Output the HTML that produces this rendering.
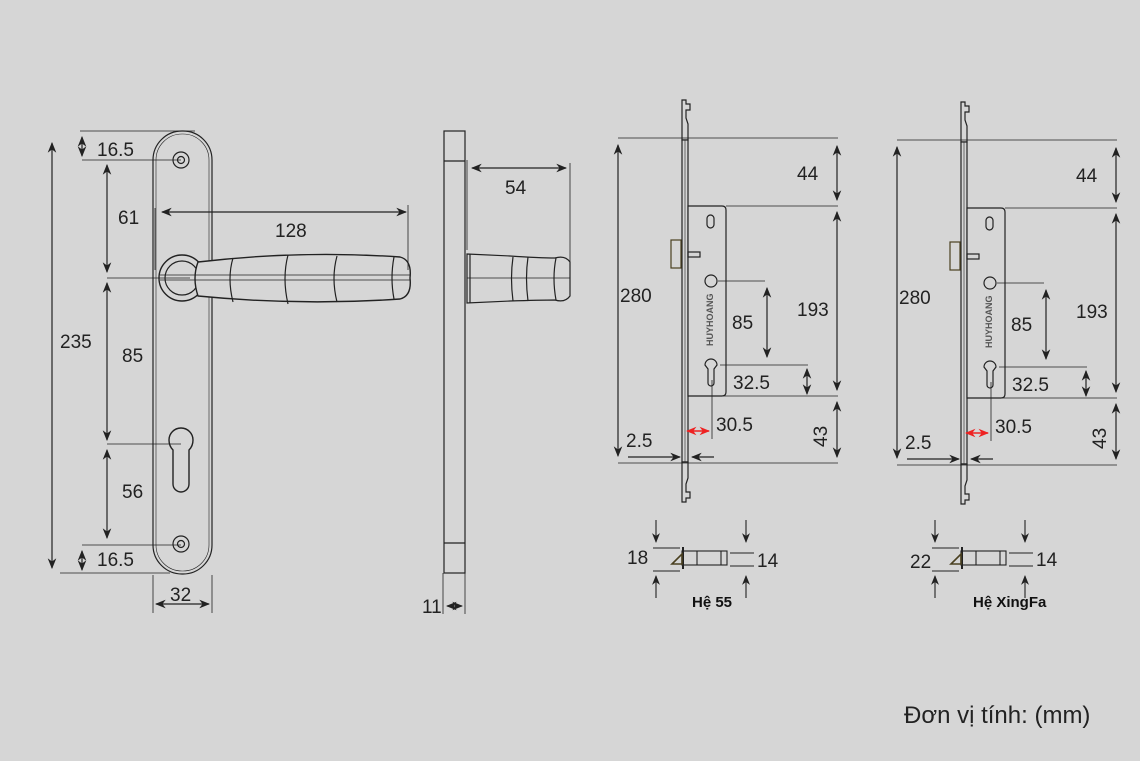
<!DOCTYPE html><html><head><meta charset="utf-8"><style>
html,body{margin:0;padding:0;background:#d6d6d6;}
svg{display:block}
text{font-family:"Liberation Sans",sans-serif;fill:#222;font-size:19px}
</style></head><body>
<svg width="1140" height="761" viewBox="0 0 1140 761" xmlns="http://www.w3.org/2000/svg">
<defs>
<marker id="a" viewBox="0 0 10 10" refX="9" refY="5" markerWidth="9" markerHeight="9" orient="auto-start-reverse"><path d="M0,1 L10,5 L0,9 L3,5z" fill="#222"/></marker>
<marker id="r" viewBox="0 0 10 10" refX="9" refY="5" markerWidth="7" markerHeight="7" orient="auto-start-reverse"><path d="M0,1 L10,5 L0,9 L3,5z" fill="#e22"/></marker>
</defs>
<rect width="1140" height="761" fill="#d6d6d6"/>
<g stroke="#222" stroke-width="1.2" fill="none">
<rect x="153" y="131" width="59" height="443" rx="29"/>
<rect x="156" y="134" width="53" height="437" rx="26" stroke-width="0.6"/>
<circle cx="181" cy="160" r="8"/><circle cx="181" cy="160" r="3.5"/>
<circle cx="181" cy="544" r="8"/><circle cx="181" cy="544" r="3.5"/>
<path d="M169,440 a12,12 0 1 1 24,0 q0,6 -4,10 v34 a8,8 0 0 1 -16,0 v-34 q-4,-4 -4,-10z" stroke-width="1.4"/>
<circle cx="182" cy="278" r="23" fill="#d6d6d6" stroke-width="1.4"/>
<circle cx="182" cy="278" r="17"/>
<path d="M198,262 Q300,250 400,257 Q412,260 410,278 Q412,296 400,299 Q300,306 198,296 Q192,278 198,262z" fill="#d6d6d6" stroke-width="1.4"/>
<path d="M233,258 Q227,278 233,302 M288,255 Q282,278 288,304 M337,256 Q331,278 337,302 M394,257 Q390,278 394,299"/>
<line x1="160" y1="275" x2="410" y2="275" stroke-width="0.8"/>
<line x1="160" y1="280" x2="410" y2="280" stroke-width="0.8"/>
<line x1="80" y1="131" x2="195" y2="131" stroke-width="0.8"/>
<line x1="82" y1="160" x2="181" y2="160" stroke-width="0.8"/>
<line x1="107" y1="278" x2="190" y2="278" stroke-width="0.8"/>
<line x1="107" y1="444" x2="181" y2="444" stroke-width="0.8"/>
<line x1="82" y1="545" x2="181" y2="545" stroke-width="0.8"/>
<line x1="60" y1="573" x2="170" y2="573" stroke-width="0.8"/>
<line x1="82" y1="137" x2="82" y2="156" marker-start="url(#a)" marker-end="url(#a)"/>
<line x1="82" y1="551" x2="82" y2="570" marker-start="url(#a)" marker-end="url(#a)"/>
<line x1="107" y1="165" x2="107" y2="272" marker-start="url(#a)" marker-end="url(#a)"/>
<line x1="107" y1="283" x2="107" y2="440" marker-start="url(#a)" marker-end="url(#a)"/>
<line x1="107" y1="450" x2="107" y2="538" marker-start="url(#a)" marker-end="url(#a)"/>
<line x1="52" y1="143" x2="52" y2="568" marker-start="url(#a)" marker-end="url(#a)"/>
<line x1="155" y1="208" x2="155" y2="270" stroke-width="0.8"/>
<line x1="408" y1="205" x2="408" y2="270" stroke-width="0.8"/>
<line x1="162" y1="212" x2="406" y2="212" marker-start="url(#a)" marker-end="url(#a)"/>
<line x1="153" y1="575" x2="153" y2="613" stroke-width="0.8"/>
<line x1="212" y1="575" x2="212" y2="613" stroke-width="0.8"/>
<line x1="156" y1="604" x2="209" y2="604" marker-start="url(#a)" marker-end="url(#a)"/>
<rect x="444" y="131" width="21" height="442"/>
<line x1="444" y1="161" x2="465" y2="161"/><line x1="444" y1="543" x2="465" y2="543"/>
<line x1="443" y1="573" x2="443" y2="614" stroke-width="0.8"/><line x1="465" y1="573" x2="465" y2="614" stroke-width="0.8"/>
<line x1="447" y1="606" x2="462" y2="606" marker-start="url(#a)" marker-end="url(#a)"/>
<path d="M467,254 L510,256 Q540,258 555,258 Q565,255 570,262 L570,296 Q565,303 555,300 Q540,300 510,301 L467,303z" fill="#d6d6d6"/>
<line x1="470" y1="254" x2="470" y2="303"/>
<path d="M513,257 Q510,278 513,301 M528,257 Q525,278 528,301 M556,258 Q552,278 556,300"/>
<line x1="467" y1="278" x2="570" y2="278" stroke-width="0.7"/>
<line x1="467" y1="160" x2="467" y2="250" stroke-width="0.8"/>
<line x1="570" y1="163" x2="570" y2="262" stroke-width="0.8"/>
<line x1="472" y1="168" x2="566" y2="168" marker-start="url(#a)" marker-end="url(#a)"/>
</g>
<text x="97" y="156">16.5</text>
<text x="97" y="566">16.5</text>
<text x="118" y="224">61</text>
<text x="122" y="362">85</text>
<text x="122" y="498">56</text>
<text x="60" y="348">235</text>
<text x="275" y="237">128</text>
<text x="170" y="601">32</text>
<text x="505" y="194">54</text>
<text x="422" y="613">11</text>

<g id="lock">
<g stroke="#222" stroke-width="1.2" fill="none">
<path d="M682,100 h4 v4 h4 v6 h-4 v8 l2,6 v16 h-6z"/>
<rect x="682" y="140" width="6" height="322" fill="#d6d6d6"/>
<line x1="685" y1="140" x2="685" y2="462" stroke-width="0.6"/>
<path d="M682,462 h6 v16 l-2,6 v8 h4 v6 h-4 v4 h-4z"/>
<path d="M688,206 H722 Q726,206 726,210 V392 Q726,396 722,396 H688z" fill="#d6d6d6"/>
<rect x="671" y="240" width="10" height="28" stroke="#4a4020"/>
<rect x="707" y="215" width="7" height="13" rx="3.5"/>
<rect x="688" y="252" width="12" height="5"/>
<circle cx="711" cy="281" r="6"/>
<path d="M705,365 a6,6 0 1 1 12,0 l-3,4 v14 a3,3 0 0 1 -6,0 v-14z"/>
<line x1="718" y1="281" x2="765" y2="281" stroke-width="0.8"/>
<line x1="720" y1="365" x2="808" y2="365" stroke-width="0.8"/>
<line x1="712" y1="380" x2="712" y2="439" stroke-width="0.8"/>
<line x1="618" y1="138" x2="838" y2="138" stroke-width="0.8"/>
<line x1="726" y1="206" x2="838" y2="206" stroke-width="0.8"/>
<line x1="690" y1="396" x2="838" y2="396" stroke-width="0.8"/>
<line x1="618" y1="463" x2="838" y2="463" stroke-width="0.8"/>
<line x1="618" y1="145" x2="618" y2="456" marker-start="url(#a)" marker-end="url(#a)"/>
<line x1="837" y1="146" x2="837" y2="200" marker-start="url(#a)" marker-end="url(#a)"/>
<line x1="837" y1="212" x2="837" y2="390" marker-start="url(#a)" marker-end="url(#a)"/>
<line x1="837" y1="402" x2="837" y2="457" marker-start="url(#a)" marker-end="url(#a)"/>
<line x1="767" y1="288" x2="767" y2="357" marker-start="url(#a)" marker-end="url(#a)"/>
<line x1="807" y1="369" x2="807" y2="394" marker-start="url(#a)" marker-end="url(#a)"/>
<line x1="628" y1="457" x2="680" y2="457" marker-end="url(#a)"/>
<line x1="714" y1="457" x2="692" y2="457" marker-end="url(#a)"/>
<line x1="687" y1="431" x2="709" y2="431" stroke="#e22" stroke-width="1.5" marker-start="url(#r)" marker-end="url(#r)"/>
</g>
<text x="0" y="0" transform="translate(713,346) rotate(-90)" style="font-size:9px;font-weight:bold;fill:#555">HUYHOANG</text>
<text x="797" y="180">44</text>
<text x="620" y="302">280</text>
<text x="797" y="316">193</text>
<text x="732" y="329">85</text>
<text x="733" y="389">32.5</text>
<text x="716" y="431">30.5</text>
<text x="626" y="447">2.5</text>
<text x="0" y="0" transform="translate(827,447) rotate(-90)">43</text>
</g>
<use href="#lock" transform="translate(279,2)"/>

<g id="small">
<g stroke="#222" stroke-width="1.1" fill="none">
<line x1="656" y1="520" x2="656" y2="542" marker-end="url(#a)"/>
<line x1="656" y1="598" x2="656" y2="576" marker-end="url(#a)"/>
<line x1="746" y1="520" x2="746" y2="542" marker-end="url(#a)"/>
<line x1="746" y1="598" x2="746" y2="576" marker-end="url(#a)"/>
<line x1="653" y1="548" x2="680" y2="548"/><line x1="653" y1="571" x2="680" y2="571"/>
<line x1="730" y1="553" x2="754" y2="553"/><line x1="730" y1="566" x2="754" y2="566"/>
<rect x="682" y="551" width="45" height="14"/>
<line x1="683" y1="547" x2="683" y2="569" stroke-width="2"/>
<line x1="697" y1="551" x2="697" y2="565"/><line x1="721" y1="551" x2="721" y2="565"/>
<path d="M672,564 L682,554 L682,564z" stroke="#4a4020" stroke-width="1.6"/>
</g>
<text x="627" y="564">18</text>
<text x="757" y="567">14</text>
</g>
<g transform="translate(279,0)">
<g stroke="#222" stroke-width="1.1" fill="none">
<line x1="656" y1="520" x2="656" y2="542" marker-end="url(#a)"/>
<line x1="656" y1="598" x2="656" y2="576" marker-end="url(#a)"/>
<line x1="746" y1="520" x2="746" y2="542" marker-end="url(#a)"/>
<line x1="746" y1="598" x2="746" y2="576" marker-end="url(#a)"/>
<line x1="653" y1="548" x2="680" y2="548"/><line x1="653" y1="571" x2="680" y2="571"/>
<line x1="730" y1="553" x2="754" y2="553"/><line x1="730" y1="566" x2="754" y2="566"/>
<rect x="682" y="551" width="45" height="14"/>
<line x1="683" y1="547" x2="683" y2="569" stroke-width="2"/>
<line x1="697" y1="551" x2="697" y2="565"/><line x1="721" y1="551" x2="721" y2="565"/>
<path d="M672,564 L682,554 L682,564z" stroke="#4a4020" stroke-width="1.6"/>
</g>
<text x="631" y="568">22</text>
<text x="757" y="566">14</text>
</g>
<text x="692" y="607" style="font-size:15px;font-weight:bold;fill:#111">Hệ 55</text>
<text x="973" y="607" style="font-size:15px;font-weight:bold;fill:#111">Hệ XingFa</text>
<text x="904" y="723" style="font-size:24px;fill:#222">Đơn vị tính: (mm)</text>
</svg>
</body></html>
